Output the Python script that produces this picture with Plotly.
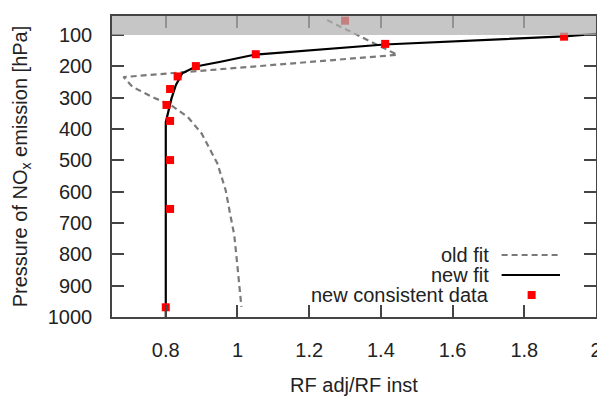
import plotly.graph_objects as go

# ---- data ----
old_fit_x = [1.25, 1.446, 0.682, 0.707, 0.767, 0.814, 0.861, 0.90, 0.944, 0.967, 0.981, 0.991, 1.0, 1.011]
old_fit_p = [52, 163, 234, 265, 300, 323, 361, 414, 510, 595, 680, 738, 839, 968]

new_fit_x = [2.0, 1.911, 1.41, 1.05, 0.953, 0.884, 0.846, 0.828, 0.816, 0.806, 0.80, 0.80]
new_fit_p = [96, 104, 130, 162, 185, 200, 222, 260, 302, 345, 378, 1000]

data_x = [1.30, 1.911, 1.412, 1.051, 0.884, 0.833, 0.812, 0.802, 0.812, 0.812, 0.812, 0.80]
data_p = [54, 105, 128, 161, 199, 232, 272, 323, 374, 499, 655, 969]

x_ticks = [0.8, 1.0, 1.2, 1.4, 1.6, 1.8, 2.0]
x_tick_labels = ["0.8", "1", "1.2", "1.4", "1.6", "1.8", "2"]
y_ticks = [100, 200, 300, 400, 500, 600, 700, 800, 900, 1000]
y_tick_labels = [str(v) for v in y_ticks]

legend_labels = ["old fit", "new fit", "new consistent data"]
band_bottom = 100

FONT = "Liberation Sans, Arial, sans-serif"
FS = 20
AX = "#444444"
TXT = "#222222"

fig = go.Figure()
fig.add_trace(go.Scatter(x=old_fit_x, y=old_fit_p, mode="lines",
                         line=dict(color="#7a7a7a", width=2.2, dash="6px,4px"),
                         showlegend=False))
fig.add_trace(go.Scatter(x=new_fit_x, y=new_fit_p, mode="lines",
                         line=dict(color="#000000", width=2.2),
                         showlegend=False))
fig.add_trace(go.Scatter(x=data_x, y=data_p, mode="markers",
                         marker=dict(symbol="square", size=8, color="#ff0000", line=dict(width=0)),
                         showlegend=False))

YTOP = 39
# grey band (drawn above, semi-transparent)
fig.add_shape(type="rect", xref="paper", yref="y", x0=0, x1=1, y0=band_bottom, y1=YTOP,
              fillcolor="rgba(176,176,176,0.72)", line=dict(width=0), layer="above")

# manual gnuplot-style legend (text left of sample)
leg_text_x = 0.7825
leg_ys = [0.206, 0.1395, 0.073]
for lab, yy in zip(legend_labels, leg_ys):
    fig.add_annotation(xref="paper", yref="paper", x=leg_text_x, y=yy, text=lab,
                       showarrow=False, xanchor="right", yanchor="middle",
                       font=dict(family=FONT, size=FS, color=TXT))
fig.add_shape(type="line", xref="paper", yref="paper", x0=0.805, x1=0.9256,
              y0=leg_ys[0], y1=leg_ys[0], line=dict(color="#7a7a7a", width=2.2, dash="6px,4px"))
fig.add_shape(type="line", xref="paper", yref="paper", x0=0.805, x1=0.9256,
              y0=leg_ys[1], y1=leg_ys[1], line=dict(color="#000000", width=2.2))
fig.add_shape(type="rect", xref="paper", yref="paper", xsizemode="pixel", ysizemode="pixel",
              xanchor=0.867, yanchor=leg_ys[2], x0=-4, x1=4, y0=-4, y1=4,
              fillcolor="#ff0000", line=dict(width=0))

# page body has an 8px margin, so the figure is sized to end at the window edge
fig.update_layout(
    width=597, height=392,
    margin=dict(l=104, r=9, t=8, b=83, autoexpand=False),
    paper_bgcolor="white", plot_bgcolor="white",
    font=dict(family=FONT, size=FS, color=TXT),
    xaxis=dict(range=[0.65, 2.0], tickvals=x_ticks, ticktext=x_tick_labels,
               ticks="inside", ticklen=12, tickwidth=1.5, tickcolor=AX,
               showline=True, linecolor=AX, linewidth=1.5, mirror="ticks",
               showgrid=False, zeroline=False, ticklabelstandoff=14, automargin=False,
               title=dict(text="RF adj/RF inst", standoff=18, font=dict(size=FS))),
    yaxis=dict(range=[1000, YTOP], tickvals=y_ticks, ticktext=y_tick_labels,
               ticks="inside", ticklen=12, tickwidth=1.5, tickcolor=AX,
               showline=True, linecolor=AX, linewidth=1.5, mirror="ticks",
               showgrid=False, zeroline=False, ticklabelstandoff=14, automargin=False,
               title=dict(text="Pressure of NO<sub>x</sub> emission [hPa]", standoff=15, font=dict(size=FS))),
)

fig.write_html("out.html")
